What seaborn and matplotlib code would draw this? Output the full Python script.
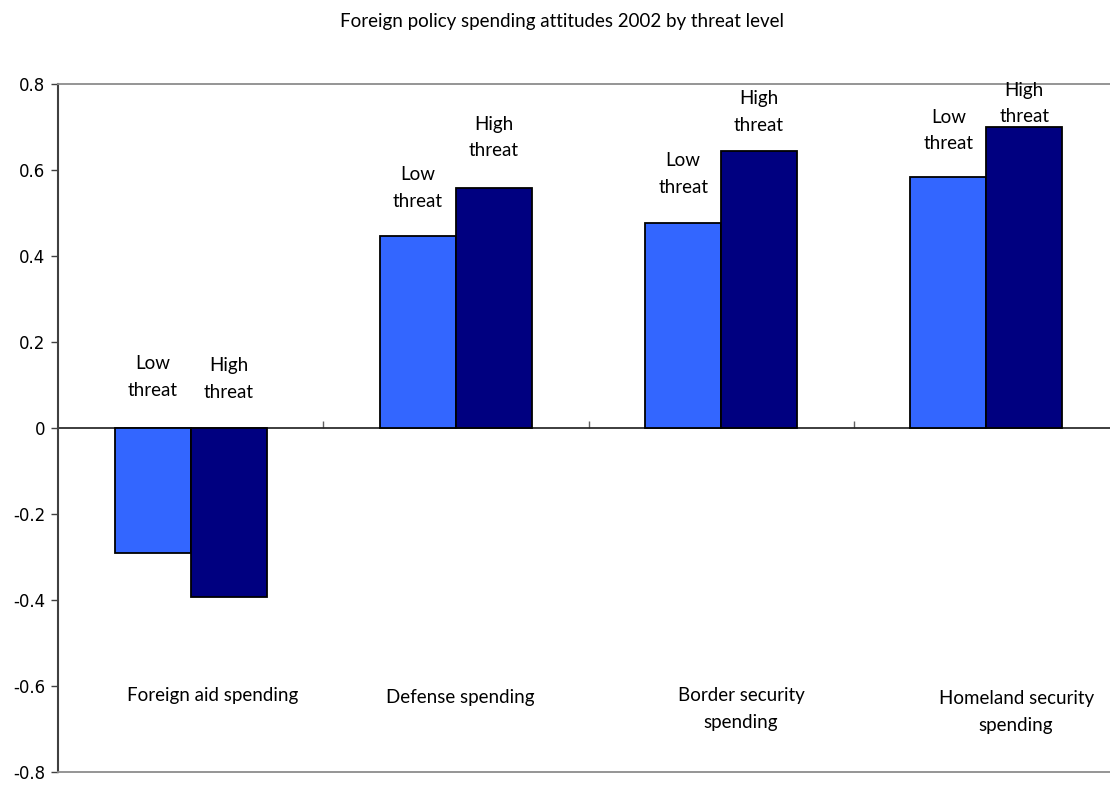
import matplotlib
matplotlib.use("Agg")
import matplotlib.pyplot as plt
import seaborn as sns
import pandas as pd

# Mean spending attitude by threat level, 2002
categories = ["Foreign aid spending", "Defense spending",
              "Border security\nspending", "Homeland security\nspending"]
threat_levels = ["Low threat", "High threat"]
low_threat = [-0.291, 0.447, 0.477, 0.583]
high_threat = [-0.394, 0.557, 0.644, 0.699]

title = "Foreign policy spending attitudes 2002 by threat level"
y_ticks = [-0.8, -0.6, -0.4, -0.2, 0, 0.2, 0.4, 0.6, 0.8]
y_tick_labels = ["-0.8", "-0.6", "-0.4", "-0.2", "0", "0.2", "0.4", "0.6", "0.8"]

# Placement of the free-floating text boxes
cat_label_x = [0.084, 1.016, 2.075, 3.112]
cat_label_y = [-0.623, -0.626, -0.653, -0.660]
bar_label_gap_px = [[51, 48, 49, 47], [49, 51, 39, 24]]  # per level, per category

df = pd.DataFrame({
    "category": categories * 2,
    "level": [threat_levels[0]] * 4 + [threat_levels[1]] * 4,
    "value": low_threat + high_threat,
})

sns.set_theme(style="white")
plt.rcParams["axes.unicode_minus"] = False
plt.rcParams["font.family"] = ["Lato", "DejaVu Sans"]

TEXT_SIZE = 13.5
LINE_SPACING = 1.68

W, H, DPI = 1110, 785, 100
fig = plt.figure(figsize=(W / DPI, H / DPI), dpi=DPI)
left_px, right_px, top_px, bottom_px = 58, 1119, 84, 772
ax = fig.add_axes([left_px / W, (H - bottom_px) / H,
                   (right_px - left_px) / W, (bottom_px - top_px) / H])

palette = {"Low threat": "#3366FF", "High threat": "#000080"}
sns.barplot(data=df, x="category", y="value", hue="level", hue_order=threat_levels,
            order=categories, palette=palette, width=0.573, gap=0,
            edgecolor="black", linewidth=1.3, saturation=1, legend=False,
            errorbar=None, ax=ax)

ax.set_xlim(-0.5, 3.5)
ax.set_ylim(-0.8, 0.8)
ax.set_xticks([])
ax.set_xlabel("")
ax.set_ylabel("")
ax.set_yticks(y_ticks)
ax.set_yticklabels(y_tick_labels, family="DejaVu Sans", fontsize=12)
ax.tick_params(axis="y", which="major", left=True, direction="out",
               length=5, width=1, color="#404040", pad=4, labelcolor="black")

for side in ("top", "bottom"):
    ax.spines[side].set_color("#8c8c8c")
    ax.spines[side].set_linewidth(1.3)
ax.spines["left"].set_color("#404040")
ax.spines["left"].set_linewidth(1.5)
ax.spines["right"].set_visible(False)

# Zero baseline with category divider ticks
zero_axis = ax.secondary_xaxis(0.5)
zero_axis.set_xticks([0.5, 1.5, 2.5])
zero_axis.set_xticklabels([])
zero_axis.tick_params(direction="out", length=5, width=1, color="#606060")
zero_axis.spines["bottom"].set_color("#8c8c8c")
zero_axis.spines["bottom"].set_linewidth(1.3)

# Two-line labels above each bar
for level_idx, container in enumerate(ax.containers):
    words = threat_levels[level_idx].split()
    text = words[0] + "\n" + words[1]
    for cat_idx, patch in enumerate(container):
        cx = patch.get_x() + patch.get_width() / 2
        top = max(0, patch.get_y() + max(patch.get_height(), 0))
        ax.annotate(text, xy=(cx, top),
                    xytext=(0, bar_label_gap_px[level_idx][cat_idx] * 72 / DPI),
                    textcoords="offset points", ha="center", va="center",
                    fontsize=TEXT_SIZE, linespacing=LINE_SPACING, color="black")

for label, x, y in zip(categories, cat_label_x, cat_label_y):
    ax.text(x, y, label, ha="center", va="center", fontsize=TEXT_SIZE,
            linespacing=LINE_SPACING, color="black")

fig.text(562 / W, 1 - 21 / H, title, ha="center", va="center",
         fontsize=TEXT_SIZE, color="black")

fig.savefig("out.png", dpi=DPI)
